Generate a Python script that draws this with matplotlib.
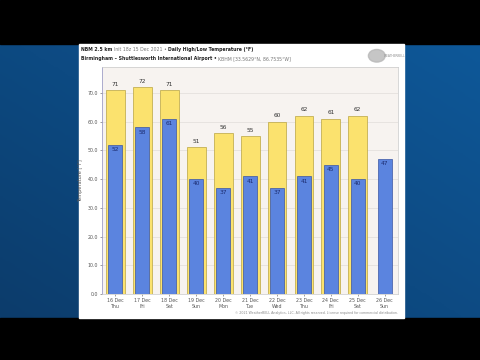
import numpy as np
import matplotlib
matplotlib.use("Agg")
import matplotlib.pyplot as plt
from matplotlib.patches import Rectangle, Ellipse

days = ["16 Dec\nThu", "17 Dec\nFri", "18 Dec\nSat", "19 Dec\nSun", "20 Dec\nMon", "21 Dec\nTue",
        "22 Dec\nWed", "23 Dec\nThu", "24 Dec\nFri", "25 Dec\nSat", "26 Dec\nSun"]
highs = [71, 72, 71, 51, 56, 55, 60, 62, 61, 62, None]
lows = [52, 58, 61, 40, 37, 41, 37, 41, 45, 40, 47]
yticks = [0, 10, 20, 30, 40, 50, 60, 70]

YEL, YEL_EDGE = "#fbe26e", "#b9a542"
BLUE, BLUE_EDGE = "#5b84df", "#3b56a3"

fig = plt.figure(figsize=(4.8, 3.6), dpi=100)

# video-frame background: blue gradient + letterbox bars
bg = fig.add_axes([0, 0, 1, 1], zorder=-10)
gx, gy = np.meshgrid(np.linspace(0, 1, 200), np.linspace(0, 1, 200))
grad = 0.55 * gy + 0.45 * gx
bg.imshow(grad, cmap=matplotlib.colors.LinearSegmentedColormap.from_list(
    "b", ["#0c3a68", "#0e5a9c"]), extent=[0, 1, 0, 1], aspect="auto", origin="lower")
bg.set_xlim(0, 1); bg.set_ylim(0, 1); bg.axis("off")
bg.add_patch(Rectangle((0, 0.878), 1, 0.122, color="black"))
bg.add_patch(Rectangle((0, 0), 1, 0.117, color="black"))
bg.add_patch(Rectangle((0.165, 0.117), 0.677, 0.761, color="white"))

# logo placeholder
bg.add_patch(Ellipse((0.785, 0.845), 0.035, 0.035, color="#b8b8b8", alpha=0.8))
bg.text(0.80, 0.845, "WEATHERBELL", fontsize=2.2, color="#909090", va="center", ha="left")

# header text, bold/normal runs
fig.canvas.draw()
r = fig.canvas.get_renderer()
def run(parts, x, y):
    for txt, bold in parts:
        t = fig.text(x, y, txt, fontsize=3.3, fontweight="bold" if bold else "normal",
                     color="#222222" if bold else "#777777", va="center", ha="left")
        x += t.get_window_extent(r).width / fig.bbox.width
run([("NBM 2.5 km ", True), ("Init 18z 15 Dec 2021 \u2022 ", False),
     ("Daily High/Low Temperature (°F)", True)], 0.168, 0.862)
run([("Birmingham \u2013 Shuttlesworth International Airport \u2022 ", True),
     ("KBHM [33.5629°N, 86.7535°W]", False)], 0.168, 0.838)

ax = fig.add_axes([0.2125, 0.183, 0.617, 0.631])
ax.set_facecolor("#f7f3f0")
x = np.arange(len(days))
hx = [i for i, h in zip(x, highs) if h is not None]
hv = [h for h in highs if h is not None]
ax.bar(hx, hv, width=0.7, color=YEL, edgecolor=YEL_EDGE, linewidth=0.5, zorder=2)
ax.bar(x, lows, width=0.52, color=BLUE, edgecolor=BLUE_EDGE, linewidth=0.5, zorder=3)
for i, h in zip(hx, hv):
    ax.text(i, h + 1.2, str(h), ha="center", va="bottom", fontsize=4.2, color="#333333")
for i, l in zip(x, lows):
    ax.text(i, l - 0.8, str(l), ha="center", va="top", fontsize=4.2, color="#1c2c70", zorder=4)

ax.set_xlim(-0.5, len(days) - 0.5)
ax.set_ylim(0, 79)
ax.set_yticks(yticks)
ax.set_yticklabels([f"{v:.1f}" for v in yticks])
ax.set_xticks(x)
ax.set_xticklabels(days)
ax.tick_params(labelsize=3.4, colors="#555555", length=1.5, width=0.4, pad=1.5)
ax.grid(axis="y", color="#dcd8d5", linewidth=0.4, zorder=0)
for s in ax.spines.values():
    s.set_color("#c8c8c8"); s.set_linewidth(0.5)
ax.spines["left"].set_color("#8f8fc0")
ax.set_ylabel("Temperature [°F]", fontsize=3.6, color="#555555", labelpad=3)

fig.text(0.829, 0.13, "© 2021 WeatherBELL Analytics, LLC. All rights reserved. License required for commercial distribution.",
         fontsize=2.3, color="#888888", ha="right", va="center")

fig.savefig("out.png", dpi=100)
